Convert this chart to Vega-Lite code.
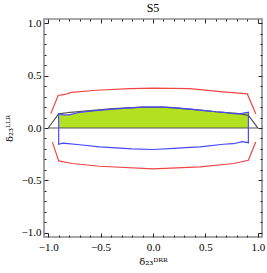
{
  "$schema": "https://vega.github.io/schema/vega-lite/v6.json",
  "autosize": "none",
  "width": 218,
  "height": 218,
  "padding": {"left": 44, "top": 19, "right": 5, "bottom": 36},
  "background": "white",
  "title": {"text": "S5", "font": "Liberation Serif", "fontSize": 12, "fontWeight": "normal", "color": "#000", "offset": 2},
  "config": {
    "view": {"stroke": "#8c8c8c", "strokeWidth": 1.6},
    "axis": {
      "domain": false, "grid": false,
      "labelFont": "Liberation Serif", "labelFontSize": 11, "labelColor": "#000",
      "titleFont": "DejaVu Serif", "titleFontSize": 10, "titleFontWeight": "normal", "titleColor": "#000",
      "tickColor": "#222", "tickWidth": 1
    }
  },
  "data": {"values": [
    {"s": "green", "i": 0, "x": -0.895, "y": 0.14},
    {"s": "green", "i": 1, "x": -0.86, "y": 0.125},
    {"s": "green", "i": 2, "x": -0.8, "y": 0.125},
    {"s": "green", "i": 3, "x": -0.7, "y": 0.15},
    {"s": "green", "i": 4, "x": -0.6, "y": 0.16},
    {"s": "green", "i": 5, "x": -0.5, "y": 0.17},
    {"s": "green", "i": 6, "x": -0.38, "y": 0.18},
    {"s": "green", "i": 7, "x": -0.25, "y": 0.19},
    {"s": "green", "i": 8, "x": -0.1, "y": 0.2},
    {"s": "green", "i": 9, "x": 0.0, "y": 0.2},
    {"s": "green", "i": 10, "x": 0.1, "y": 0.2},
    {"s": "green", "i": 11, "x": 0.2, "y": 0.195},
    {"s": "green", "i": 12, "x": 0.35, "y": 0.18},
    {"s": "green", "i": 13, "x": 0.5, "y": 0.165},
    {"s": "green", "i": 14, "x": 0.6, "y": 0.155},
    {"s": "green", "i": 15, "x": 0.67, "y": 0.15},
    {"s": "green", "i": 16, "x": 0.75, "y": 0.14},
    {"s": "green", "i": 17, "x": 0.8, "y": 0.135},
    {"s": "green", "i": 18, "x": 0.85, "y": 0.14},
    {"s": "green", "i": 19, "x": 0.905, "y": 0.15},

    {"s": "gray", "i": 0, "x": -1.0, "y": 0.0},
    {"s": "gray", "i": 1, "x": -0.9, "y": 0.135},
    {"s": "gray", "i": 2, "x": -0.79, "y": 0.15},
    {"s": "gray", "i": 3, "x": -0.6, "y": 0.165},
    {"s": "gray", "i": 4, "x": -0.38, "y": 0.185},
    {"s": "gray", "i": 5, "x": -0.1, "y": 0.2},
    {"s": "gray", "i": 6, "x": 0.1, "y": 0.2},
    {"s": "gray", "i": 7, "x": 0.35, "y": 0.18},
    {"s": "gray", "i": 8, "x": 0.6, "y": 0.155},
    {"s": "gray", "i": 9, "x": 0.8, "y": 0.14},
    {"s": "gray", "i": 10, "x": 0.91, "y": 0.12},
    {"s": "gray", "i": 11, "x": 1.0, "y": 0.0},
    {"s": "gray", "i": 12, "x": -1.0, "y": 0.0},

    {"s": "blue", "i": 0, "x": -0.9, "y": 0.14},
    {"s": "blue", "i": 1, "x": -0.86, "y": 0.125},
    {"s": "blue", "i": 2, "x": -0.8, "y": 0.125},
    {"s": "blue", "i": 3, "x": -0.7, "y": 0.15},
    {"s": "blue", "i": 4, "x": -0.6, "y": 0.16},
    {"s": "blue", "i": 5, "x": -0.5, "y": 0.17},
    {"s": "blue", "i": 6, "x": -0.38, "y": 0.18},
    {"s": "blue", "i": 7, "x": -0.25, "y": 0.19},
    {"s": "blue", "i": 8, "x": -0.1, "y": 0.2},
    {"s": "blue", "i": 9, "x": 0.0, "y": 0.2},
    {"s": "blue", "i": 10, "x": 0.1, "y": 0.2},
    {"s": "blue", "i": 11, "x": 0.2, "y": 0.195},
    {"s": "blue", "i": 12, "x": 0.35, "y": 0.18},
    {"s": "blue", "i": 13, "x": 0.5, "y": 0.165},
    {"s": "blue", "i": 14, "x": 0.6, "y": 0.155},
    {"s": "blue", "i": 15, "x": 0.67, "y": 0.15},
    {"s": "blue", "i": 16, "x": 0.75, "y": 0.14},
    {"s": "blue", "i": 17, "x": 0.8, "y": 0.135},
    {"s": "blue", "i": 18, "x": 0.85, "y": 0.14},
    {"s": "blue", "i": 19, "x": 0.91, "y": 0.15},
    {"s": "blue", "i": 20, "x": 0.91, "y": -0.14},
    {"s": "blue", "i": 21, "x": 0.85, "y": -0.13},
    {"s": "blue", "i": 22, "x": 0.77, "y": -0.15},
    {"s": "blue", "i": 23, "x": 0.67, "y": -0.155},
    {"s": "blue", "i": 24, "x": 0.45, "y": -0.18},
    {"s": "blue", "i": 25, "x": 0.35, "y": -0.185},
    {"s": "blue", "i": 26, "x": 0.2, "y": -0.195},
    {"s": "blue", "i": 27, "x": 0.0, "y": -0.205},
    {"s": "blue", "i": 28, "x": -0.2, "y": -0.2},
    {"s": "blue", "i": 29, "x": -0.51, "y": -0.18},
    {"s": "blue", "i": 30, "x": -0.7, "y": -0.16},
    {"s": "blue", "i": 31, "x": -0.81, "y": -0.15},
    {"s": "blue", "i": 32, "x": -0.86, "y": -0.145},
    {"s": "blue", "i": 33, "x": -0.9, "y": -0.155},
    {"s": "blue", "i": 34, "x": -0.9, "y": 0.14},

    {"s": "redU", "i": 0, "x": -0.975, "y": 0.137},
    {"s": "redU", "i": 1, "x": -0.905, "y": 0.31},
    {"s": "redU", "i": 2, "x": -0.84, "y": 0.32},
    {"s": "redU", "i": 3, "x": -0.78, "y": 0.34},
    {"s": "redU", "i": 4, "x": -0.54, "y": 0.36},
    {"s": "redU", "i": 5, "x": -0.22, "y": 0.375},
    {"s": "redU", "i": 6, "x": 0.0, "y": 0.38},
    {"s": "redU", "i": 7, "x": 0.35, "y": 0.375},
    {"s": "redU", "i": 8, "x": 0.67, "y": 0.345},
    {"s": "redU", "i": 9, "x": 0.9, "y": 0.325},
    {"s": "redU", "i": 10, "x": 0.98, "y": 0.137},

    {"s": "redL", "i": 0, "x": -0.96, "y": -0.135},
    {"s": "redL", "i": 1, "x": -0.9, "y": -0.314},
    {"s": "redL", "i": 2, "x": -0.77, "y": -0.339},
    {"s": "redL", "i": 3, "x": -0.51, "y": -0.365},
    {"s": "redL", "i": 4, "x": 0.0, "y": -0.39},
    {"s": "redL", "i": 5, "x": 0.45, "y": -0.371},
    {"s": "redL", "i": 6, "x": 0.77, "y": -0.339},
    {"s": "redL", "i": 7, "x": 0.91, "y": -0.308},
    {"s": "redL", "i": 8, "x": 0.98, "y": -0.133}
  ]},
  "resolve": {"axis": {"x": "independent", "y": "independent"}},
  "layer": [
    {
      "transform": [{"filter": "datum.s === 'green'"}],
      "mark": {"type": "area", "fill": "#b3e01f", "fillOpacity": 1, "orient": "vertical"},
      "encoding": {
        "x": {"field": "x", "type": "quantitative",
          "scale": {"domain": [-1.04, 1.04], "nice": false, "zero": false},
          "axis": {"orient": "bottom", "title": "δ₂₃ᴰᴿᴿ",
            "values": [-1, -0.9, -0.8, -0.7, -0.6, -0.5, -0.4, -0.3, -0.2, -0.1, 0, 0.1, 0.2, 0.3, 0.4, 0.5, 0.6, 0.7, 0.8, 0.9, 1],
            "labelExpr": "abs(datum.value*2 - round(datum.value*2)) < 0.001 ? format(datum.value, '.1f') : ''",
            "tickSize": {"condition": {"test": "abs(datum.value*2 - round(datum.value*2)) < 0.001", "value": -4}, "value": -2},
            "labelPadding": 8, "titlePadding": 4}},
        "y": {"field": "y", "type": "quantitative", "stack": null,
          "scale": {"domain": [-1.04, 1.04], "nice": false, "zero": false},
          "axis": {"orient": "left", "title": "δ₂₃ᴸᴸᴿ",
            "values": [-1, -0.9, -0.8, -0.7, -0.6, -0.5, -0.4, -0.3, -0.2, -0.1, 0, 0.1, 0.2, 0.3, 0.4, 0.5, 0.6, 0.7, 0.8, 0.9, 1],
            "labelExpr": "abs(datum.value*2 - round(datum.value*2)) < 0.001 ? format(datum.value, '.1f') : ''",
            "tickSize": {"condition": {"test": "abs(datum.value*2 - round(datum.value*2)) < 0.001", "value": -4}, "value": -2},
            "labelPadding": 7, "titlePadding": 7}},
        "y2": {"datum": 0}
      }
    },
    {
      "transform": [{"filter": "datum.s === 'gray'"}],
      "mark": {"type": "line", "color": "#555555", "strokeWidth": 1.2},
      "encoding": {
        "x": {"field": "x", "type": "quantitative",
          "scale": {"domain": [-1.04, 1.04], "nice": false, "zero": false},
          "axis": {"orient": "top", "title": null, "labels": false,
            "values": [-1, -0.9, -0.8, -0.7, -0.6, -0.5, -0.4, -0.3, -0.2, -0.1, 0, 0.1, 0.2, 0.3, 0.4, 0.5, 0.6, 0.7, 0.8, 0.9, 1],
            "tickSize": {"condition": {"test": "abs(datum.value*2 - round(datum.value*2)) < 0.001", "value": -4}, "value": -2}}},
        "y": {"field": "y", "type": "quantitative",
          "scale": {"domain": [-1.04, 1.04], "nice": false, "zero": false},
          "axis": {"orient": "right", "title": null, "labels": false,
            "values": [-1, -0.9, -0.8, -0.7, -0.6, -0.5, -0.4, -0.3, -0.2, -0.1, 0, 0.1, 0.2, 0.3, 0.4, 0.5, 0.6, 0.7, 0.8, 0.9, 1],
            "tickSize": {"condition": {"test": "abs(datum.value*2 - round(datum.value*2)) < 0.001", "value": -4}, "value": -2}}},
        "order": {"field": "i", "type": "quantitative"}
      }
    },
    {
      "transform": [{"filter": "datum.s === 'blue'"}],
      "mark": {"type": "line", "color": "#4848ff", "strokeWidth": 1.2},
      "encoding": {
        "x": {"field": "x", "type": "quantitative", "axis": null},
        "y": {"field": "y", "type": "quantitative", "axis": null},
        "order": {"field": "i", "type": "quantitative"}
      }
    },
    {
      "transform": [{"filter": "datum.s === 'redU' || datum.s === 'redL'"}],
      "mark": {"type": "line", "color": "#f04545", "strokeWidth": 1.2},
      "encoding": {
        "x": {"field": "x", "type": "quantitative", "axis": null},
        "y": {"field": "y", "type": "quantitative", "axis": null},
        "detail": {"field": "s"},
        "order": {"field": "i", "type": "quantitative"}
      }
    }
  ]
}
